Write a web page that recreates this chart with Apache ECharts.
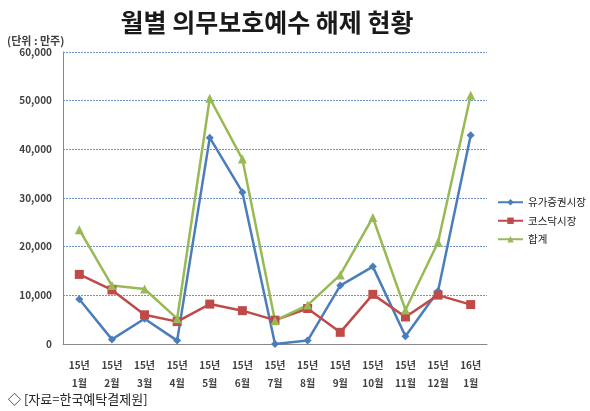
<!DOCTYPE html>
<html>
<head>
<meta charset="utf-8">
<script src="https://cdn.jsdelivr.net/npm/echarts@6/dist/echarts.min.js"></script>
<style>
html,body{margin:0;padding:0;background:#fff;}
#main{width:590px;height:411px;}
</style>
</head>
<body>
<div id="main"></div>
<script>
var months = ['15년\n1월','15년\n2월','15년\n3월','15년\n4월','15년\n5월','15년\n6월','15년\n7월','15년\n8월','15년\n9월','15년\n10월','15년\n11월','15년\n12월','16년\n1월'];
var kospi = [9200, 950, 5200, 700, 42400, 31200, 0, 700, 12000, 15900, 1600, 10900, 42900];
var kosdaq = [14300, 11100, 6000, 4600, 8200, 6850, 4900, 7300, 2400, 10200, 5550, 10050, 8100];
var total = [23500, 12000, 11300, 5200, 50500, 38000, 4800, 8000, 14200, 26000, 7000, 20900, 51100];

var font = '"Noto Sans CJK KR", sans-serif';
var chart = echarts.init(document.getElementById('main'));

var option = {
	backgroundColor: '#fff',
	animation: false,
	textStyle: { fontFamily: font },
	title: [
		{
			text: '월별 의무보호예수 해제 현황',
			left: 262, top: 5, textAlign: 'center',
			textStyle: { fontSize: 25, fontWeight: 'bold', color: '#1a1a1a', fontFamily: font }
		},
		{
			text: '(단위 : 만주)',
			left: 2, top: 30,
			textStyle: { fontSize: 11, fontWeight: 'bold', color: '#404040', fontFamily: font }
		},
		{
			text: '◇ [자료=한국예탁결제원]',
			left: 3, top: 388,
			textStyle: { fontSize: 13, fontWeight: 'normal', color: '#222', fontFamily: font }
		}
	],
	legend: {
		orient: 'vertical',
		left: 492, top: 192,
		itemWidth: 25, itemHeight: 8, itemGap: 8,
		textStyle: { fontSize: 10.5, color: '#222', fontFamily: font },
		data: ['유가증권시장', '코스닥시장', '합계']
	},
	grid: { left: 63, right: 103, top: 52, bottom: 67 },
	xAxis: {
		type: 'category',
		data: months,
		boundaryGap: true,
		axisLine: { lineStyle: { color: '#888', width: 1 } },
		axisTick: { show: false },
		axisLabel: { interval: 0, margin: 12, fontSize: 10, fontWeight: 'bold', color: '#404040', lineHeight: 18 }
	},
	yAxis: {
		type: 'value',
		min: 0, max: 60000, interval: 10000,
		axisLine: { show: true, lineStyle: { color: '#888', width: 1 } },
		axisTick: { show: false },
		axisLabel: {
			margin: 11, fontSize: 10, fontWeight: 'bold', color: '#404040',
			formatter: function (v) { return v.toLocaleString('en-US'); }
		},
		splitLine: { lineStyle: { color: '#6f93c6', type: [2, 1], width: 1 } }
	},
	series: [
		{
			name: '유가증권시장', type: 'line', data: kospi,
			symbol: 'diamond', symbolSize: 8,
			lineStyle: { width: 2.5, color: '#4a7ebb' },
			itemStyle: { color: '#4a7ebb' }
		},
		{
			name: '코스닥시장', type: 'line', data: kosdaq,
			symbol: 'rect', symbolSize: 9,
			lineStyle: { width: 2.5, color: '#be4b48' },
			itemStyle: { color: '#be4b48' }
		},
		{
			name: '합계', type: 'line', data: total,
			symbol: 'triangle', symbolSize: 9,
			lineStyle: { width: 2.5, color: '#98b954' },
			itemStyle: { color: '#98b954' }
		}
	]
};
chart.setOption(option);
</script>
</body>
</html>
